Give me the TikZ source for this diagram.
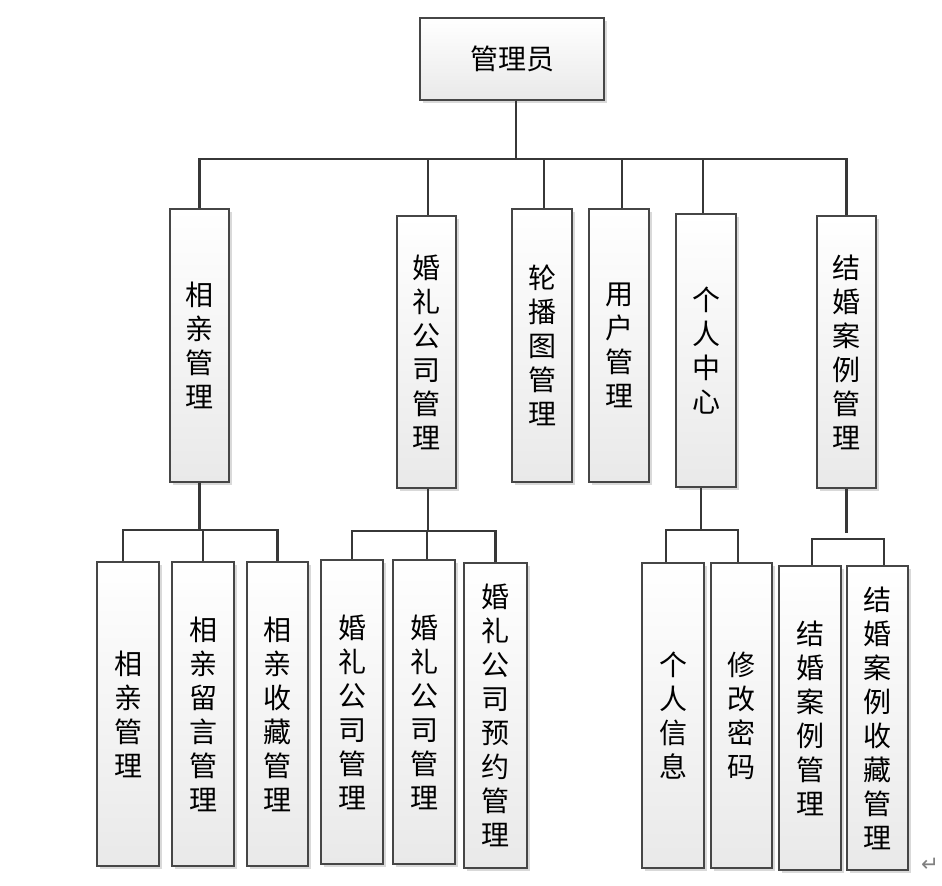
\documentclass[tikz,border=0pt]{standalone}
\usepackage{fontspec}
\setmainfont{Noto Sans CJK SC}
\newfontfamily\symfont{DejaVu Sans}
\usepackage{tikz}
\usetikzlibrary{shadows}
\definecolor{boxline}{RGB}{70,70,70}
\definecolor{boxbot}{RGB}{233,233,233}
\definecolor{linkgray}{RGB}{55,55,55}
\tikzset{
  box/.style={draw=boxline,line width=1.1pt,top color=white,bottom color=boxbot,
    drop shadow={shadow xshift=2.5pt,shadow yshift=-2.5pt,fill=black!15,opacity=1},
    inner sep=0pt,align=center,font=\fontsize{21pt}{25.5pt}\selectfont},
  boxsize/.style 2 args={minimum width=#1*0.75pt,minimum height=#2*0.75pt},
  link/.style={draw=linkgray,line width=1.7pt}
}

\begin{document}
\begin{tikzpicture}[x=0.75pt,y=-0.75pt]
  \useasboundingbox (0,0) rectangle (942,885);
  % top
  \node[box,boxsize={184}{82}] (adm) at (512,59) {管理员};
  % second row
  \node[box,boxsize={59}{273}] (xq) at (199.5,345.5) {相\\亲\\管\\理};
  \node[box,boxsize={59}{272}] (hl) at (426.5,352) {婚\\礼\\公\\司\\管\\理};
  \node[box,boxsize={60}{273}] (lb) at (542,345.5) {轮\\播\\图\\管\\理};
  \node[box,boxsize={60}{273}] (yh) at (619,345.5) {用\\户\\管\\理};
  \node[box,boxsize={60}{273}] (gr) at (706,350.5) {个\\人\\中\\心};
  \node[box,boxsize={59}{272}] (jh) at (846.5,352) {结\\婚\\案\\例\\管\\理};
  % third row
  \node[box,boxsize={62}{304}] (xq1) at (128,714) {相\\亲\\管\\理};
  \node[box,boxsize={62}{304}] (xq2) at (203,714) {相\\亲\\留\\言\\管\\理};
  \node[box,boxsize={61}{304}] (xq3) at (277.5,714) {相\\亲\\收\\藏\\管\\理};
  \node[box,boxsize={62}{304}] (hl1) at (352,712) {婚\\礼\\公\\司\\管\\理};
  \node[box,boxsize={62}{304}] (hl2) at (424,712) {婚\\礼\\公\\司\\管\\理};
  \node[box,boxsize={63}{305}] (hl3) at (495.5,715.5) {婚\\礼\\公\\司\\预\\约\\管\\理};
  \node[box,boxsize={62}{305}] (gr1) at (673,715.5) {个\\人\\信\\息};
  \node[box,boxsize={61}{305}] (gr2) at (741.5,715.5) {修\\改\\密\\码};
  \node[box,boxsize={62}{304}] (jh1) at (810,718) {结\\婚\\案\\例\\管\\理};
  \node[box,boxsize={61}{304}] (jh2) at (877.5,718) {结\\婚\\案\\例\\收\\藏\\管\\理};
  % links
  \foreach \c/\dx in {xq/0,hl/1.5,lb/2,yh/3,gr/-3,jh/0}
    \draw[link] ([xshift=3pt]adm.south) -- ++(0,58) -| ([xshift=\dx*0.75pt]\c.north);
  \foreach \c/\dx in {xq1/-5,xq2/0,xq3/0}
    \draw[link] (xq.south) -- ++(0,47) -| ([xshift=\dx*0.75pt]\c.north);
  \foreach \c/\dx in {hl1/0,hl2/3,hl3/0}
    \draw[link] ([xshift=1pt]hl.south) -- ++(0,42) -| ([xshift=\dx*0.75pt]\c.north);
  \foreach \c/\dx in {gr1/-7,gr2/-3.5}
    \draw[link] ([xshift=-3.75pt]gr.south) -- ++(0,42) -| ([xshift=\dx*0.75pt]\c.north);
  \draw[link] (jh.south) -- ++(0,44);
  \coordinate (jhbus) at (846.5,539);
  \draw[link] ([xshift=1.5pt]jh1.north) |- (jhbus) -| ([xshift=4.9pt]jh2.north);
  \node[text=gray,font=\symfont\fontsize{16pt}{16pt}\selectfont] (ret) at (930,865) {↵};
\end{tikzpicture}
\end{document}
